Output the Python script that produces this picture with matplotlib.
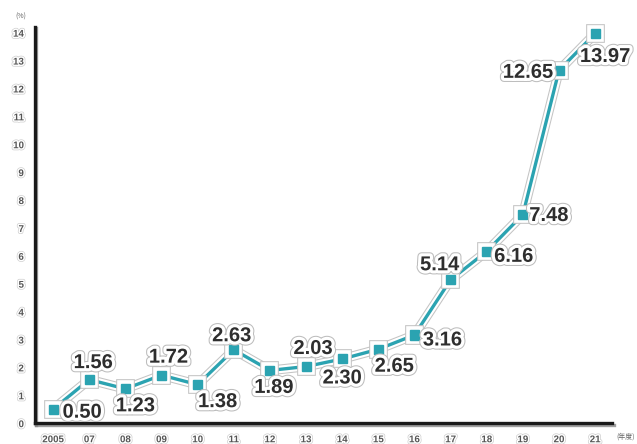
import matplotlib
matplotlib.use("Agg")
from matplotlib import pyplot as plt
import matplotlib.patheffects as pe

years = ['2005', '07', '08', '09', '10', '11', '12', '13', '14', '15', '16', '17', '18', '19', '20', '21']
values = [0.50, 1.56, 1.23, 1.72, 1.38, 2.63, 1.89, 2.03, 2.30, 2.65, 3.16, 5.14, 6.16, 7.48, 12.65, 13.97]
labels = ['0.50', '1.56', '1.23', '1.72', '1.38', '2.63', '1.89', '2.03', '2.30', '2.65', '3.16', '5.14', '6.16', '7.48', '12.65', '13.97']
# label offsets from the point (pixels, y up)
offsets = [(29, -3), (4, 17), (10, -17), (7, 18), (20, -17), (-2, 14), (4, -17), (7, 18),
           (0, -19), (16, -17), (28, -5), (-11, 15), (27, -5), (26, -1), (-31, -2), (10, -23)]

teal = '#2ba3b1'
fig = plt.figure(figsize=(6.37, 4.44), dpi=100)
ax = fig.add_axes([0.055, 0.047, 0.906, 0.892])

x = list(range(len(values)))
halo_line = [pe.Stroke(linewidth=7, foreground='#c4c4c4'), pe.Stroke(linewidth=5.5, foreground='white'), pe.Normal()]
ax.plot(x, values, color=teal, lw=2.4, marker='s', ms=6.5, mec=teal, mfc=teal,
        path_effects=halo_line, zorder=3, clip_on=False)

halo_txt = [pe.Stroke(linewidth=6, foreground='#bdbdbd'), pe.Stroke(linewidth=4.5, foreground='white'), pe.Normal()]
for xi, v, lab, (dx, dy) in zip(x, values, labels, offsets):
    ax.annotate(lab, (xi, v), xytext=(dx * 0.72, dy * 0.72), textcoords='offset points',
                ha='center', va='center', fontsize=14.5, fontweight='bold', color='#2e2e2e',
                family=['Liberation Sans', 'DejaVu Sans'], path_effects=halo_txt, zorder=4)

ax.set_xlim(-0.5, 15.47)
ax.set_ylim(0, 14.2)
ax.set_yticks(range(0, 15))
ax.set_xticks(x)
ax.set_xticklabels(years)
tick_fx = [pe.Stroke(linewidth=3, foreground='#cfcfcf'), pe.Stroke(linewidth=2, foreground='white'), pe.Normal()]
ax.tick_params(length=0, labelsize=7, labelcolor='#555555', pad=8)
for t in ax.get_xticklabels() + ax.get_yticklabels():
    t.set_fontweight('bold')
    t.set_family(['Liberation Sans', 'DejaVu Sans'])
    t.set_path_effects(tick_fx)

for s in ['top', 'right']:
    ax.spines[s].set_visible(False)
for s in ['left', 'bottom']:
    ax.spines[s].set_linewidth(2.4)
    ax.spines[s].set_color('#1a1a1a')
    ax.spines[s].set_path_effects([pe.SimpleLineShadow(offset=(1, -1), shadow_color='#888888', alpha=0.8), pe.Normal()])

fig.text(0.032, 0.962, '(%)', fontsize=5, color='#666666', ha='center', va='center',
         family=['Noto Sans CJK JP', 'DejaVu Sans'])
fig.text(0.982, 0.016, '(年度)', fontsize=5, color='#666666', ha='center', va='center',
         family=['Noto Sans CJK JP', 'DejaVu Sans'])

fig.savefig('out.png', dpi=100)
